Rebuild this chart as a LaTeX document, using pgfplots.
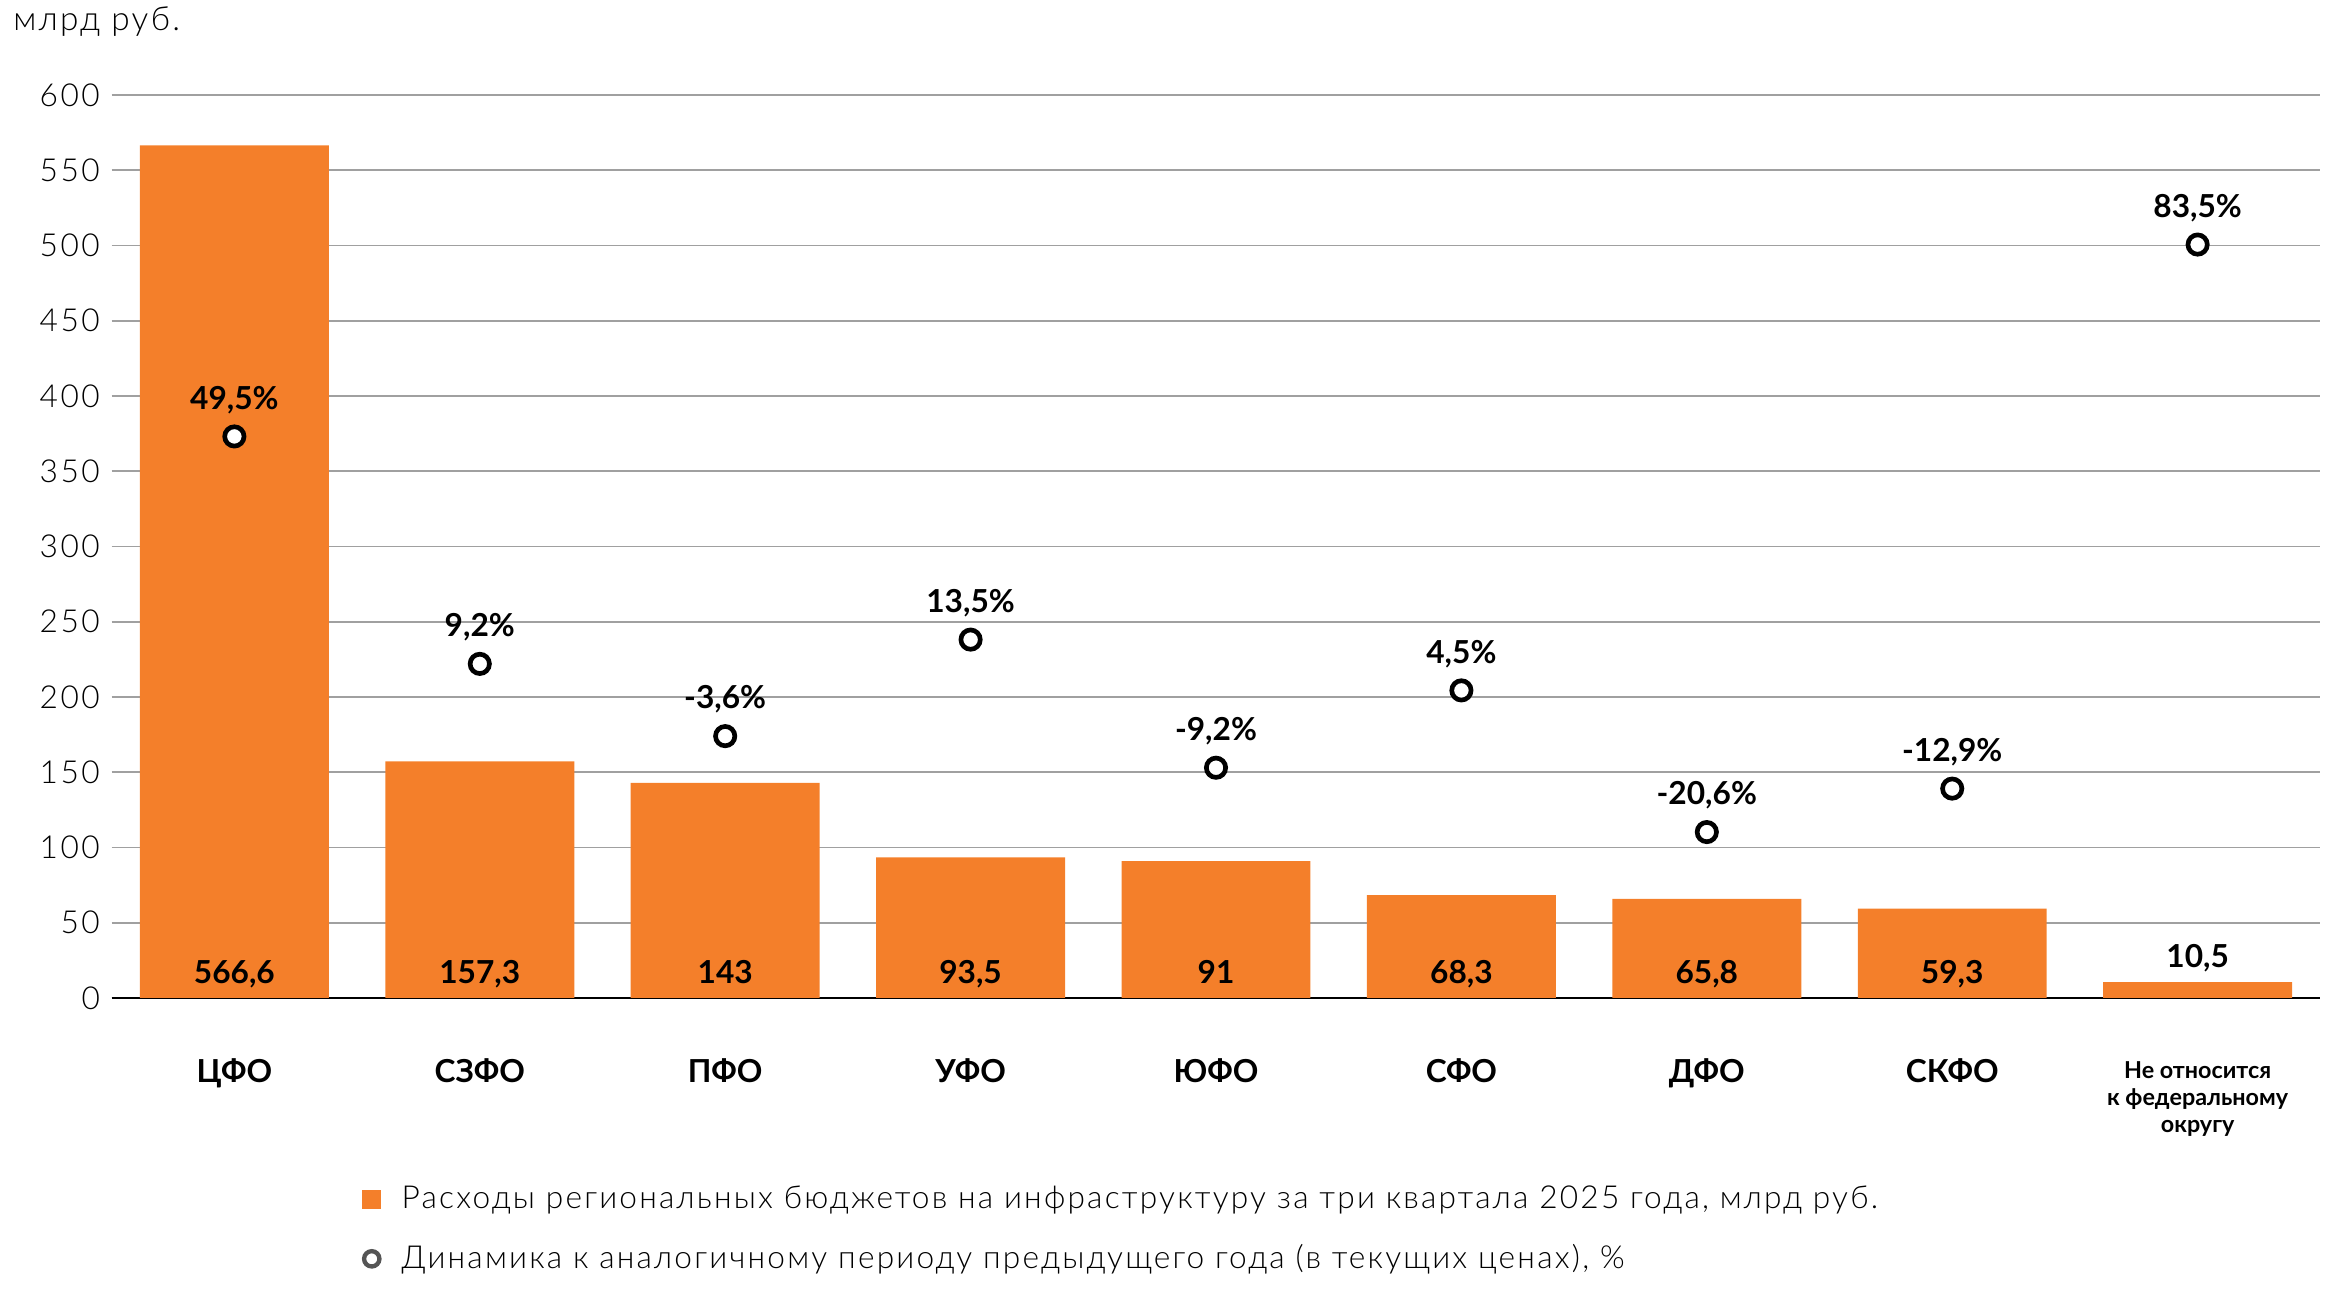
\documentclass[border=0pt]{standalone}
\usepackage{fontspec}
\setmainfont{Lato}
\newfontfamily\light{Lato Light}
\newfontfamily\lightsp[LetterSpace=7]{Lato Light}
\newfontfamily\ticksp[LetterSpace=8]{Lato Light}
\usepackage{pgfplots}
\pgfplotsset{compat=1.18}
\definecolor{barorange}{HTML}{F47F2A}
\definecolor{gridgray}{HTML}{A0A0A0}
\definecolor{legcirc}{HTML}{555555}
\begin{document}
\begin{tikzpicture}
\path[use as bounding box] (-33.5pt,-88.2pt) rectangle (666.1pt,299.4pt);
\begin{axis}[
  at={(0,0)}, anchor=south west,
  scale only axis, width=662.6pt, height=270.9pt,
  xmin=-0.5, xmax=8.5, ymin=0, ymax=600,
  ytick={0,50,...,600},
  xtick={0,...,8},
  xticklabels={ЦФО,СЗФО,ПФО,УФО,ЮФО,СФО,ДФО,СКФО,{\fontsize{7}{8.2}\selectfont\begin{tabular}{@{}c@{}}Не относится\\к федеральному\\округу\end{tabular}}},
  xticklabel style={font=\bfseries\fontsize{9.5}{11}\selectfont, align=center, anchor=north, yshift=-14.8pt},
  yticklabel style={font=\ticksp\fontsize{9.5}{10}\selectfont, xshift=0pt},
  /pgf/number format/assume math mode=true,
  axis lines*=left,
  y axis line style={draw=none},
  x axis line style={black, line width=0.8pt},
  major tick length=0pt,
  ymajorgrids, grid style={gridgray, line width=0.5pt},
]
\addplot[ybar, bar width=0.77, fill=barorange, draw=none] coordinates {
  (0,566.6) (1,157.3) (2,143) (3,93.5) (4,91) (5,68.3) (6,65.8) (7,59.3) (8,10.5)};
\addplot[draw=none, mark=none, nodes near coords, point meta=explicit symbolic,
  every node near coord/.style={anchor=base, yshift=4.4pt, inner sep=0pt, font=\bfseries\fontsize{9.5}{11}\selectfont}]
  coordinates {(0,0) [{566,6}] (1,0) [{157,3}] (2,0) [{143}] (3,0) [{93,5}] (4,0) [{91}]
   (5,0) [{68,3}] (6,0) [{65,8}] (7,0) [{59,3}] (8,10.5) [{10,5}]};
\end{axis}
\begin{axis}[
  at={(0,0)}, anchor=south west,
  scale only axis, width=662.6pt, height=270.9pt,
  xmin=-0.5, xmax=8.5, ymin=-50, ymax=110,
  hide axis,
  legend style={at={(0.113,-0.2)}, anchor=north west, draw=none, fill=none,
    font=\lightsp\fontsize{9.5}{11}\selectfont, row sep=5.2pt, inner sep=0pt,
    nodes={inner xsep=6pt}},
  legend cell align=left,
]
\addlegendimage{legend image code/.code={\fill[barorange] (0pt,-2.7pt) rectangle (5.4pt,2.7pt);}}
\addlegendentry{Расходы региональных бюджетов на инфраструктуру за три квартала 2025 года, млрд руб.}
\addlegendimage{legend image code/.code={\draw[line width=1.3pt, legcirc] (2.7pt,0pt) circle (2.3pt);}}
\addlegendentry{Динамика к аналогичному периоду предыдущего года (в текущих ценах), \%}
\addplot[only marks, mark=*, mark size=2.9pt, mark options={fill=white, draw=black, line width=1.4pt},
  nodes near coords, point meta=explicit symbolic, forget plot,
  every node near coord/.style={anchor=base, yshift=8.2pt, inner sep=0pt, font=\bfseries\fontsize{9.5}{11}\selectfont}]
  coordinates {(0,49.5) [{49,5\%}] (1,9.2) [{9,2\%}] (2,-3.6) [{-3,6\%}] (3,13.5) [{13,5\%}]
   (4,-9.2) [{-9,2\%}] (5,4.5) [{4,5\%}] (6,-20.6) [{-20,6\%}] (7,-12.9) [{-12,9\%}] (8,83.5) [{83,5\%}]};
\end{axis}
\node[anchor=base west, font=\lightsp\fontsize{10}{12}\selectfont] at (-33pt,290.1pt) {млрд руб.};
\end{tikzpicture}
\end{document}
